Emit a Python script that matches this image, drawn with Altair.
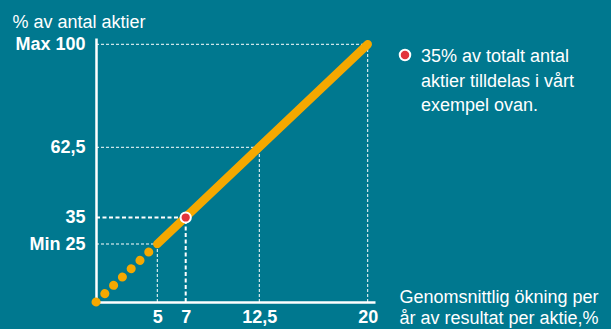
import altair as alt
import pandas as pd

# ---- data ----
x_ticks = [5, 7, 12.5, 20]
y_ticks = [25, 35, 62.5, 100]
highlight = [False, True, False, False]
line_x = [0, 5, 20]
line_y = [0, 25, 100]
point_x = [7]
point_y = [35]
note_lines = ["35% av totalt antal", "aktier tilldelas i vårt", "exempel ovan."]
y_title = "% av antal aktier"
x_title = ["Genomsnittlig ökning per", "år av resultat per aktie,%"]

TEAL = "#00788F"
ORANGE = "#F5A800"
RED = "#E2343C"
WHITE = "#FFFFFF"
FONT = "Liberation Sans"

W, H = 279, 264

xscale = alt.Scale(domain=[0, 5, 7, 12.5, 20, 20.5],
                   range=[0, 61.3, 89.7, 163.3, 271.7, 279],
                   nice=False, zero=False)
yscale = alt.Scale(domain=[0, 25, 35, 62.5, 100, 102.5],
                   range=[264, 206, 179.5, 109.3, 6.3, 0],
                   nice=False, zero=False)

xaxis = alt.Axis(values=x_ticks,
                 labelExpr="replace(toString(datum.value), '.', ',')",
                 ticks=False, grid=False, domainColor=WHITE, domainWidth=2.5,
                 labelColor=WHITE, labelFont=FONT, labelFontSize=18,
                 labelFontWeight="bold", labelPadding=6, labelFlush=False,
                 labelOverlap=False,
                 title=x_title, titleFont=FONT, titleFontSize=18,
                 titleFontWeight="normal", titleColor=WHITE,
                 titleX=303, titleY=0, titleAlign="left",
                 titleBaseline="alphabetic", titleLineHeight=21)
yaxis = alt.Axis(values=y_ticks,
                 labelExpr="datum.value == 100 ? 'Max 100' : datum.value == 25 ? 'Min 25' : replace(toString(datum.value), '.', ',')",
                 ticks=False, grid=False, domainColor=WHITE, domainWidth=2.5,
                 labelColor=WHITE, labelFont=FONT, labelFontSize=18,
                 labelFontWeight="bold", labelPadding=11, labelFlush=False,
                 labelOverlap=False,
                 title=y_title, titleFont=FONT, titleFontSize=18,
                 titleFontWeight="normal", titleColor=WHITE, titleAngle=0,
                 titleX=-84, titleY=-11, titleAlign="left",
                 titleBaseline="alphabetic")

guides = pd.DataFrame({"x": x_ticks, "y": y_ticks, "hl": highlight})
guides["x0"] = 0
guides["y0"] = 0
g_norm = guides[~guides["hl"]]
g_hl = guides[guides["hl"]]

line_df = pd.DataFrame({"x": line_x, "y": line_y})
dotted_df = line_df.iloc[0:2]
solid_df = line_df.iloc[1:3]
pt_df = pd.DataFrame({"x": point_x, "y": point_y})
note_df = pd.DataFrame({"t": ["\n".join(note_lines)]})


def hrule(df, width, dash):
    return alt.Chart(df).mark_rule(color=WHITE, strokeWidth=width, strokeDash=dash).encode(
        x=alt.X("x0:Q", scale=xscale, axis=xaxis), x2="x:Q",
        y=alt.Y("y:Q", scale=yscale, axis=yaxis))


def vrule(df, width, dash):
    return alt.Chart(df).mark_rule(color=WHITE, strokeWidth=width, strokeDash=dash).encode(
        x=alt.X("x:Q", scale=xscale, axis=xaxis),
        y=alt.Y("y0:Q", scale=yscale, axis=yaxis), y2="y:Q")


layers = [
    hrule(g_norm, 1, [3, 2]), vrule(g_norm, 1, [3, 2]),
    hrule(g_hl, 2, [4, 2.5]), vrule(g_hl, 2, [4, 2.5]),
    alt.Chart(dotted_df).mark_line(color=ORANGE, strokeWidth=9, strokeCap="round",
                                   strokeDash=[0.1, 12]).encode(
        x=alt.X("x:Q", scale=xscale, axis=xaxis), y=alt.Y("y:Q", scale=yscale, axis=yaxis)),
    alt.Chart(solid_df).mark_line(color=ORANGE, strokeWidth=8.5, strokeCap="round").encode(
        x=alt.X("x:Q", scale=xscale, axis=xaxis), y=alt.Y("y:Q", scale=yscale, axis=yaxis)),
    alt.Chart(pt_df).mark_point(filled=True, color=RED, size=105, opacity=1,
                                stroke=WHITE, strokeWidth=2).encode(
        x=alt.X("x:Q", scale=xscale, axis=xaxis), y=alt.Y("y:Q", scale=yscale, axis=yaxis)),
    alt.Chart(note_df).mark_point(filled=True, color=RED, size=110, opacity=1,
                                  stroke=WHITE, strokeWidth=2).encode(
        x=alt.value(309), y=alt.value(17)),
    alt.Chart(note_df).mark_text(align="left", baseline="alphabetic", font=FONT,
                                 fontSize=18, color=WHITE, lineBreak="\n",
                                 lineHeight=24.5).encode(
        x=alt.value(325), y=alt.value(24.3), text="t:N"),
]

chart = alt.layer(*layers).properties(
    width=W, height=H,
    background=TEAL,
    padding={"left": 96, "top": 38, "right": 236, "bottom": 27},
    autosize=alt.AutoSizeParams(type="none"),
).configure_view(stroke=None)

chart.save("out.html", embed_options={"renderer": "svg", "actions": False})
